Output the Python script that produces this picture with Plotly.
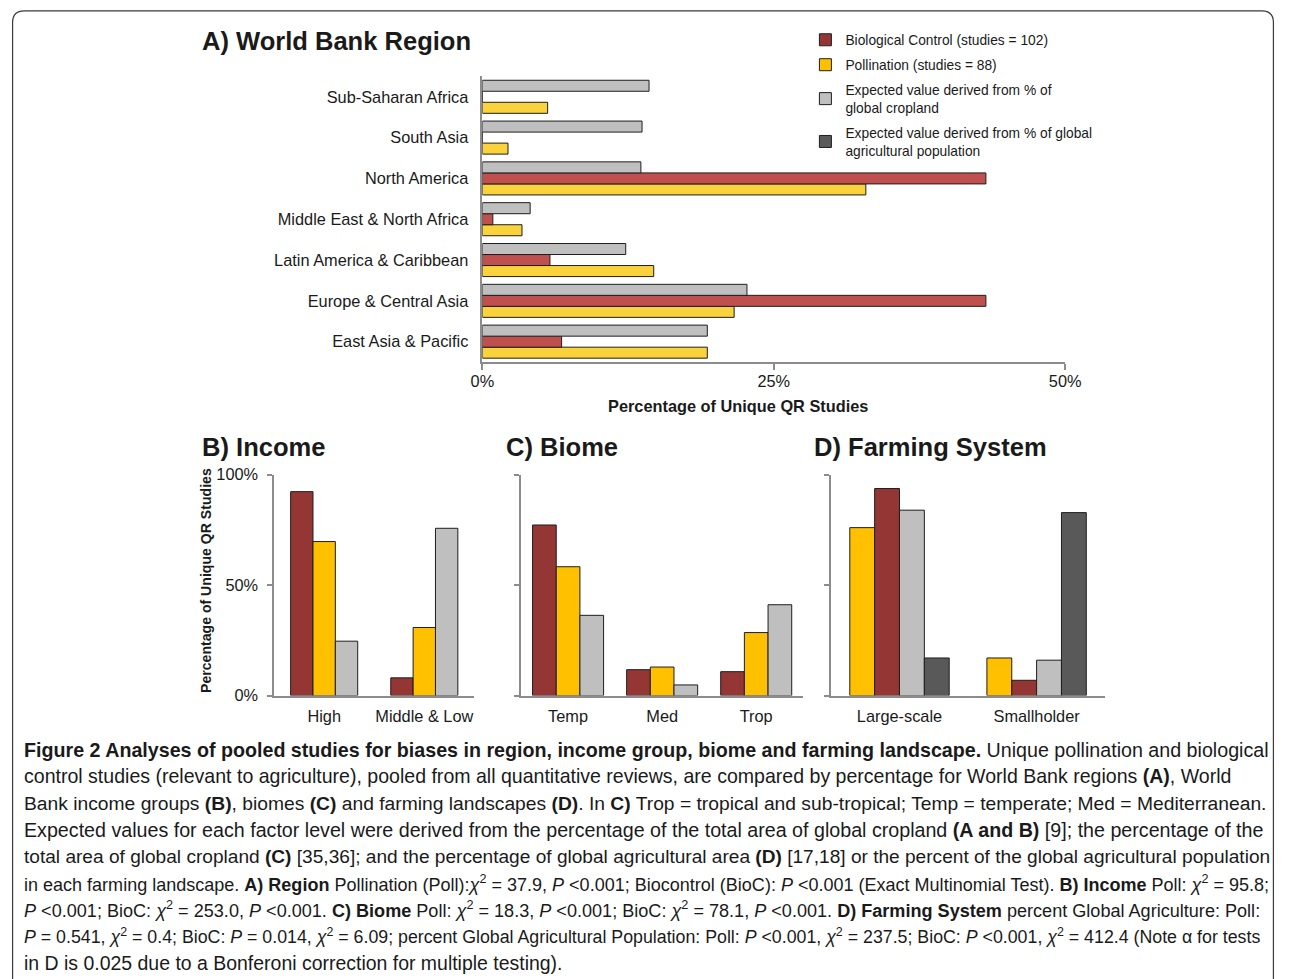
import plotly.graph_objects as go

W, H = 1290, 979

# The photographed page maps page pixels to picture pixels with a slight
# shrink; these constants undo it so that positions below are picture pixels.
SX, OX = 0.9786, 11.5
SY, OY = 0.982, 8.2
FS = 1 / SX  # font compensation


def px_x(p):
    return min(max((p - OX) / SX, 0.6), W - 0.6)


def px_y(p):
    return min(max((p - OY) / SY, 0.6), H + 20)


def X(p):
    return px_x(p) / W


def Y(p):
    return 1 - px_y(p) / H


# ---------------- data ----------------
REGIONS = ["Sub-Saharan Africa", "South Asia", "North America",
           "Middle East & North Africa", "Latin America & Caribbean",
           "Europe & Central Asia", "East Asia & Pacific"]
REG_EXPECTED = [14.3, 13.7, 13.6, 4.1, 12.3, 22.7, 19.3]
REG_BIOC = [0, 0, 43.2, 0.9, 5.8, 43.2, 6.8]
REG_POLL = [5.6, 2.2, 32.9, 3.4, 14.7, 21.6, 19.3]
REG_TICKS = [0, 25, 50]
REG_TICKTEXT = ["0%", "25%", "50%"]

INCOME = ["High", "Middle & Low"]
INC_BIOC = [92.3, 8.0]
INC_POLL = [69.7, 30.8]
INC_EXPECTED = [24.6, 75.7]

BIOME = ["Temp", "Med", "Trop"]
BIO_BIOC = [77.2, 11.7, 10.8]
BIO_POLL = [58.3, 12.9, 28.5]
BIO_EXPECTED = [36.3, 4.8, 41.1]

FARM = ["Large-scale", "Smallholder"]
FARM_POLL = [76.0, 17.0]
FARM_BIOC = [93.7, 6.9]
FARM_EXP_CROP = [83.9, 16.0]
FARM_EXP_POP = [17.0, 82.8]

PCT_TICKS = [0, 50, 100]
PCT_TICKTEXT = ["0%", "50%", "100%"]

NAME_BIOC = "Biological Control (studies = 102)"
NAME_POLL = "Pollination (studies = 88)"
NAME_CROP = "Expected value derived from % of<br>global cropland"
NAME_POP = "Expected value derived from % of global<br>agricultural population"

# ---------------- styles ----------------
FONT = "Liberation Sans, Arial, sans-serif"
TXT = "#1a1a1a"
AX = "#8c8c8c"
OUTLINE = dict(color="#1e1e1e", width=1)

A_RED, A_YEL, GRAY = "#C0504D", "#F9D23C", "#BFBFBF"
RED, YEL, DARK = "#943634", "#FFC000", "#595959"

fig = go.Figure()


def offsets(n, group):
    w = group / n
    return w, [-group / 2 + i * w for i in range(n)]


# Panel A (horizontal) - bottom to top: pollination, biocontrol, expected
wA, offA = offsets(3, 0.81)
for vals, col, name, off in [(REG_POLL, A_YEL, NAME_POLL, offA[0]),
                             (REG_BIOC, A_RED, NAME_BIOC, offA[1]),
                             (REG_EXPECTED, GRAY, NAME_CROP, offA[2])]:
    fig.add_trace(go.Bar(y=REGIONS, x=vals, orientation="h", width=wA, offset=off,
                         marker=dict(color=col, line=OUTLINE), name=name,
                         showlegend=False, xaxis="x", yaxis="y"))

# Panel B
wB, offB = offsets(3, 0.67)
for i, (vals, col, name) in enumerate([(INC_BIOC, RED, NAME_BIOC),
                                       (INC_POLL, YEL, NAME_POLL),
                                       (INC_EXPECTED, GRAY, NAME_CROP)]):
    fig.add_trace(go.Bar(x=INCOME, y=vals, width=wB, offset=offB[i],
                         marker=dict(color=col, line=OUTLINE), name=name,
                         showlegend=False, xaxis="x2", yaxis="y2"))

# Panel C
wC, offC = offsets(3, 0.755)
for i, (vals, col, name) in enumerate([(BIO_BIOC, RED, NAME_BIOC),
                                       (BIO_POLL, YEL, NAME_POLL),
                                       (BIO_EXPECTED, GRAY, NAME_CROP)]):
    fig.add_trace(go.Bar(x=BIOME, y=vals, width=wC, offset=offC[i],
                         marker=dict(color=col, line=OUTLINE), name=name,
                         showlegend=False, xaxis="x3", yaxis="y3"))

# Panel D (carries the legend)
wD, offD = offsets(4, 0.725)
for i, (vals, col, name, rank) in enumerate([(FARM_POLL, YEL, NAME_POLL, 2),
                                             (FARM_BIOC, RED, NAME_BIOC, 1),
                                             (FARM_EXP_CROP, GRAY, NAME_CROP, 3),
                                             (FARM_EXP_POP, DARK, NAME_POP, 4)]):
    fig.add_trace(go.Bar(x=FARM, y=vals, width=wD, offset=offD[i],
                         marker=dict(color=col, line=OUTLINE), name=name,
                         legendrank=rank, legendgroup=str(rank),
                         showlegend=True, xaxis="x4", yaxis="y4"))

# ---------------- axes ----------------
base = dict(showgrid=False, zeroline=False, showline=True, linecolor=AX,
            linewidth=1.5, tickfont=dict(family=FONT, size=16 * FS, color=TXT))
ytick = dict(tickmode="array", tickvals=PCT_TICKS, ticktext=PCT_TICKTEXT,
             ticks="outside", ticklen=5, tickcolor=AX, tickwidth=1.5)


def ax(**kw):
    d = dict(base)
    d.update(kw)
    return d


def yax(**kw):
    d = dict(base)
    d.update(ytick)
    d.update(kw)
    return d


layout = dict(
    width=W, height=H, margin=dict(l=0, r=0, t=0, b=0),
    paper_bgcolor="white", plot_bgcolor="white",
    barmode="overlay", font=dict(family=FONT, color=TXT),
    xaxis=ax(domain=[X(482), X(1065)], anchor="y", range=[0, 50],
             tickmode="array", tickvals=REG_TICKS, ticktext=REG_TICKTEXT,
             ticks="outside", ticklen=6, tickcolor=AX, tickwidth=1.5,
             ticklabelstandoff=-2),
    yaxis=ax(domain=[Y(361.4), Y(75.6)], anchor="x", type="category",
             categoryorder="array", categoryarray=REGIONS[::-1],
             range=[-0.5, 6.5], ticks="", ticklabelstandoff=9),
    xaxis2=ax(domain=[X(273.7), X(474)], anchor="y2", type="category",
              range=[-0.5, 1.5], ticks="", ticklabelstandoff=5),
    yaxis2=yax(domain=[Y(695), Y(474)], anchor="x2", range=[0, 100],
               ticklabelstandoff=6),
    xaxis3=ax(domain=[X(520.7), X(803)], anchor="y3", type="category",
              range=[-0.5, 2.5], ticks="", ticklabelstandoff=5),
    yaxis3=yax(domain=[Y(695), Y(474)], anchor="x3", range=[0, 100],
               showticklabels=False),
    xaxis4=ax(domain=[X(830.7), X(1105)], anchor="y4", type="category",
              range=[-0.5, 1.5], ticks="", ticklabelstandoff=5),
    yaxis4=yax(domain=[Y(695), Y(474)], anchor="x4", range=[0, 100],
               showticklabels=False),
    legend=dict(x=811 / W, y=1 - 15.6 / H, xanchor="left", yanchor="top",
                traceorder="grouped", tracegroupgap=4, itemwidth=30,
                font=dict(family=FONT, size=13.5 * FS, color=TXT),
                bgcolor="rgba(0,0,0,0)"),
)
fig.update_layout(**layout)

# ---------------- titles & captions ----------------
ann = []


def add_text(text, x, y, size, xanchor="left", yanchor="middle", angle=0):
    ann.append(dict(text=text, x=X(x), y=Y(y), xref="paper", yref="paper",
                    xanchor=xanchor, yanchor=yanchor, showarrow=False,
                    textangle=angle,
                    font=dict(family=FONT, size=size * FS, color=TXT)))


add_text("<b>A) World Bank Region</b>", 200, 40, 25)
add_text("<b>B) Income</b>", 200, 446, 25)
add_text("<b>C) Biome</b>", 504, 446, 25)
add_text("<b>D) Farming System</b>", 812, 446, 25)
add_text("<b>Percentage of Unique QR Studies</b>", 737.5, 405, 16, xanchor="center")
add_text("<b>Percentage of Unique QR Studies</b>", 205, 580, 13.8,
         xanchor="center", angle=-90)

CAPTION = [
    "<b>Figure 2 Analyses of pooled studies for biases in region, income group, biome and farming landscape.</b> Unique pollination and biological",
    "control studies (relevant to agriculture), pooled from all quantitative reviews, are compared by percentage for World Bank regions <b>(A)</b>, World",
    "Bank income groups <b>(B)</b>, biomes <b>(C)</b> and farming landscapes <b>(D)</b>. In <b>C)</b> Trop = tropical and sub-tropical; Temp = temperate; Med = Mediterranean.",
    "Expected values for each factor level were derived from the percentage of the total area of global cropland <b>(A and B)</b> [9]; the percentage of the",
    "total area of global cropland <b>(C)</b> [35,36]; and the percentage of global agricultural area <b>(D)</b> [17,18] or the percent of the global agricultural population",
    "in each farming landscape. <b>A) Region</b> Pollination (Poll):<i>χ</i><sup>2</sup> = 37.9, <i>P</i> &lt;0.001; Biocontrol (BioC): <i>P</i> &lt;0.001 (Exact Multinomial Test). <b>B) Income</b> Poll: <i>χ</i><sup>2</sup> = 95.8;",
    "<i>P</i> &lt;0.001; BioC: <i>χ</i><sup>2</sup> = 253.0, <i>P</i> &lt;0.001. <b>C) Biome</b> Poll: <i>χ</i><sup>2</sup> = 18.3, <i>P</i> &lt;0.001; BioC: <i>χ</i><sup>2</sup> = 78.1, <i>P</i> &lt;0.001. <b>D) Farming System</b> percent Global Agriculture: Poll:",
    "<i>P</i> = 0.541, <i>χ</i><sup>2</sup> = 0.4; BioC: <i>P</i> = 0.014, <i>χ</i><sup>2</sup> = 6.09; percent Global Agricultural Population: Poll: <i>P</i> &lt;0.001, <i>χ</i><sup>2</sup> = 237.5; BioC: <i>P</i> &lt;0.001, <i>χ</i><sup>2</sup> = 412.4 (Note α for tests",
    "in D is 0.025 due to a Bonferoni correction for multiple testing).",
]
CAP_Y = [749, 776, 803, 829.5, 856, 883, 909.5, 936, 963]
CAP_SIZE = [19.25, 19.15, 18.85, 19.25, 18.7, 17.65, 17.7, 17.4, 19.05]
for line, yy, sz in zip(CAPTION, CAP_Y, CAP_SIZE):
    add_text(line, 22, yy, sz)

fig.update_layout(annotations=ann)

# rounded frame (continues past the bottom edge)
xl, xr, yt = X(8), X(1290), Y(10)
r_x, r_y = 12 / W, 12 / H
frame = (f"M {xl},{Y(1000)} L {xl},{yt - r_y} Q {xl},{yt} {xl + r_x},{yt} "
         f"L {xr - r_x},{yt} Q {xr},{yt} {xr},{yt - r_y} L {xr},{Y(1000)}")
fig.update_layout(shapes=[dict(type="path", path=frame, xref="paper", yref="paper",
                               line=dict(color="#3a3a3a", width=1.2))])

fig.write_html("out.html", config={"displayModeBar": False},
               post_script="document.body.style.margin='0';"
                           "document.body.style.padding='0';"
                           "document.documentElement.style.overflow='hidden';")
